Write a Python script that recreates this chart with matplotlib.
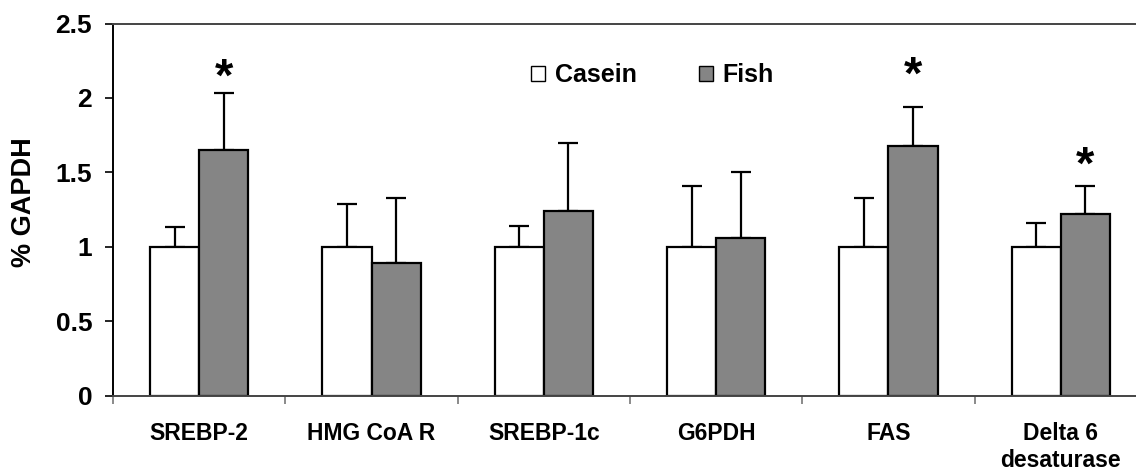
import numpy as np
import matplotlib
matplotlib.use("Agg")
import matplotlib.pyplot as plt
from matplotlib.patches import Patch

# values (% GAPDH)
genes = ["SREBP-2", "HMG CoA R", "SREBP-1c", "G6PDH", "FAS", "Delta 6\ndesaturase"]
casein = [1.0, 1.0, 1.0, 1.0, 1.0, 1.0]
casein_err = [0.13, 0.29, 0.14, 0.41, 0.33, 0.16]
fish = [1.65, 0.89, 1.24, 1.06, 1.68, 1.22]
fish_err = [0.38, 0.44, 0.46, 0.44, 0.26, 0.19]
# significance markers: gene index -> height of the star
stars = {0: 2.13, 4: 2.14, 5: 1.54}

yticks = [0, 0.5, 1, 1.5, 2, 2.5]
ytick_labels = ["0", "0.5", "1", "1.5", "2", "2.5"]

plt.rcParams["font.family"] = ["Liberation Sans", "DejaVu Sans"]
plt.rcParams["font.weight"] = "bold"

fig = plt.figure(figsize=(11.36, 4.72), dpi=100)
ax = fig.add_axes([113 / 1136, 1 - 395.5 / 472, 1034 / 1136, 372 / 472])

x = np.arange(len(genes))
w = 0.285

ax.bar(x - w / 2, casein, w, color="white", edgecolor="black", linewidth=1.6,
       label="Casein", zorder=2)
ax.bar(x + w / 2, fish, w, color="#858585", edgecolor="black", linewidth=1.6,
       label="Fish", zorder=2)

# only the upper half of the error bars is drawn
ax.errorbar(x - w / 2, casein, yerr=[np.zeros(len(x)), casein_err], fmt="none",
            ecolor="black", elinewidth=1.6, capsize=7.5, capthick=1.6, zorder=1)
ax.errorbar(x + w / 2, fish, yerr=[np.zeros(len(x)), fish_err], fmt="none",
            ecolor="black", elinewidth=1.6, capsize=7.5, capthick=1.6, zorder=1)

for i, h in stars.items():
    ax.text(x[i] + w / 2, h, "*", ha="center", va="center", fontsize=34,
            fontweight="bold")

ax.set_xlim(-0.5, len(genes) - 0.5)
ax.set_ylim(0, 2.5)
ax.set_yticks(yticks)
ax.set_yticklabels(ytick_labels, fontsize=19, fontweight="bold")
ax.tick_params(axis="y", direction="out", length=6, width=1.2, pad=9)

# category boundaries carry the ticks, names sit in between
ax.set_xticks(np.arange(len(genes) + 1) - 0.5)
ax.set_xticklabels([])
ax.tick_params(axis="x", which="major", direction="out", length=6, width=1.2,
               color="#777777")
ax.set_xticks(x, minor=True)
ax.set_xticklabels(genes, minor=True, fontsize=16.5, fontweight="bold",
                   linespacing=1.25)
ax.tick_params(axis="x", which="minor", length=0, pad=19)

for side in ["left", "top", "bottom"]:
    ax.spines[side].set_linewidth(1.4)
ax.spines["left"].set_color("black")
ax.spines["top"].set_color("#444444")
ax.spines["bottom"].set_color("#444444")
ax.spines["right"].set_visible(False)

fig.text(24 / 1136, 1 - 202 / 472, "% GAPDH", rotation=90, ha="center",
         va="center", fontsize=19.5, fontweight="bold")

handles = [Patch(facecolor="white", edgecolor="black", linewidth=1.0),
           Patch(facecolor="#858585", edgecolor="black", linewidth=1.0)]
ax.legend(handles, ["Casein", "Fish"], ncol=2, frameon=False,
          loc="center left", bbox_to_anchor=(531 / 1136, 1 - 75 / 472),
          bbox_transform=fig.transFigure, borderpad=0, borderaxespad=0,
          handlelength=0.55, handleheight=0.55, handletextpad=0.4,
          columnspacing=2.5, prop={"size": 18, "weight": "bold"})

fig.savefig("out.png", dpi=100)
